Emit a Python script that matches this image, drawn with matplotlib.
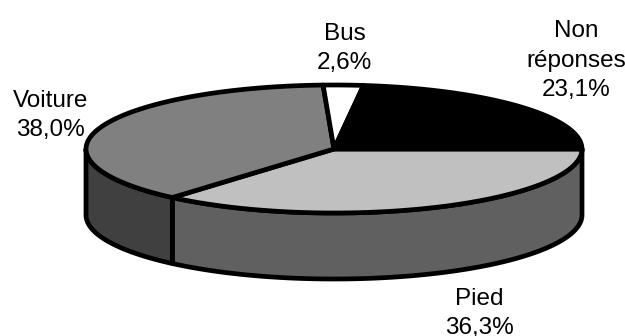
import numpy as np
import matplotlib
matplotlib.use("Agg")
import matplotlib.pyplot as plt
from matplotlib.patches import Polygon

plt.rcParams['font.family'] = ['Liberation Sans', 'DejaVu Sans']

# slices in clockwise order, starting at 3 o'clock
labels = ["Pied", "Voiture", "Bus", "Non\nréponses"]
values = [36.3, 38.0, 2.6, 23.1]
top_colors = ["#c0c0c0", "#808080", "#ffffff", "#000000"]
side_colors = ["#606060", "#404040", "#808080", "#000000"]
# x centre and baseline of the last line of each label
label_pos = [(479, 334), (50.5, 136), (344.5, 69), (576, 96)]

cx, cy = 334, 149
rx, ry = 248, 64
depth = 66
lw = 3.4


def rim(a0, a1, drop=0):
    # points along the ellipse, angles in degrees clockwise on screen
    t = np.radians(np.linspace(a0, a1, 200))
    return np.column_stack([cx + rx*np.cos(t), cy + ry*np.sin(t) + drop])


fig = plt.figure(figsize=(6.25, 3.36), dpi=100)
ax = fig.add_axes([0, 0, 1, 1])
ax.set_xlim(0, 625)
ax.set_ylim(336, 0)
ax.axis('off')

edges = np.concatenate([[0], np.cumsum(values)*3.6])

# the wall, only the front half of the rim can be seen
for i in range(len(values)):
    a0, a1 = edges[i], min(edges[i+1], 180)
    if a0 >= 180:
        continue
    pts = np.vstack([rim(a0, a1), rim(a1, a0, depth)])
    ax.add_patch(Polygon(pts, closed=True, fc=side_colors[i], ec='k', lw=lw, joinstyle='round'))

# top face
for i in range(len(values)):
    pts = np.vstack([[(cx, cy)], rim(edges[i], edges[i+1])])
    ax.add_patch(Polygon(pts, closed=True, fc=top_colors[i], ec='k', lw=lw, joinstyle='round'))

for lab, val, (x, y) in zip(labels, values, label_pos):
    txt = "{}\n{:.1f}%".format(lab, val).replace(".", ",")
    ax.text(x, y, txt, ha='center', va='baseline', multialignment='center',
            fontsize=17.5, color='k', linespacing=1.43)

fig.savefig("out.png", dpi=100)
plt.close(fig)
